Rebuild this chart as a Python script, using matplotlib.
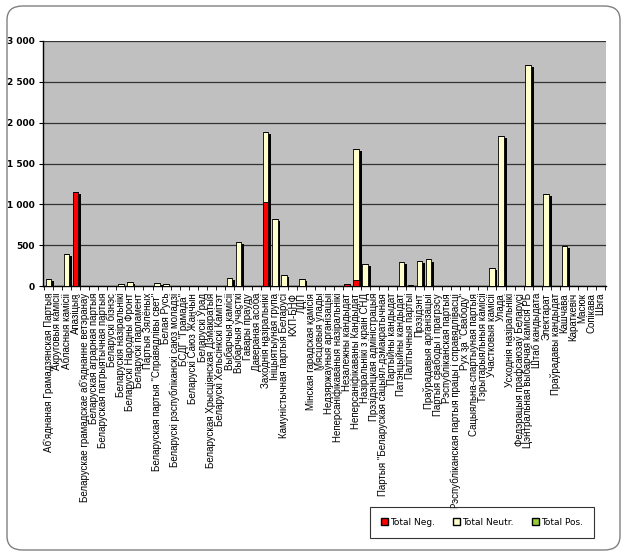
import numpy as np
import matplotlib
matplotlib.use('Agg')
import matplotlib.pyplot as plt
from matplotlib.patches import Patch, FancyBboxPatch
from matplotlib.ticker import FuncFormatter

# categories (Belarusian actor names)
categories = [
    "Аб'яднаная Грамадзянская Партыя", "Акруговыя камісіі", "Абласныя камісіі", "Апазіцыя",
    "Беларускае грамадскае аб'яднанне ветэранаў", "Беларуская аграрная партыя",
    "Беларуская патрыятычная партыя", "Беларускі бізнэс", "Беларускія назіральнікі",
    "Беларускі Народны Фронт", "Беларускі парламент", "Партыя Зялёных",
    'Беларуская партыя "Справядлівы свет"', "Белая Русь",
    "Беларускі рэспубліканскі саюз моладзі", 'БСДГ "Грамада"', "Беларускі Саюз Жанчын",
    "Беларускі Ўрад", "Беларуская Хрысціянская Дэмакратыя", "Беларускі Хельсінкскі Камітэт",
    "Выбарчыя камісіі", "Выбарчыя ўчасткі", "Гавары праўду", "Давераная асоба",
    "Заходнія назіральнікі", "Ініцыятыўная група", "Камуністычная партыя Беларусі",
    "КХП-БНФ", "ЛДП", "Мінская гарадская камісія", "Мясцовыя ўлады",
    "Недзяржаўныя арганізацыі", "Неперсаніфікаваныя назіральнікі", "Незалежны кандыдат",
    "Неперсаніфікаваны Кандыдат", "Назіральнікі з краін СНД", "Прэзідэнцкая адміністрацыя",
    'Партыя "Беларуская сацыял-дэмакратычная', "Партыйны кандыдат", "Патэнцыйны кандыдат",
    "Палітычныя партыі", "Прэзідэнт", "Праўрадавыя арганізацыі", "Партыя свабоды і прагрэсу",
    "Рэспубліканская партыя", "Рэспубліканская партыя працы і справядлівасці",
    'Рух за "Свабоду"', "Сацыяльна-спартыўная партыя", "Тэрытарыяльныя камісіі",
    "Участковыя камісіі", "Улада", "Усходнія назіральнікі", "Федэрацыя прафсаюзаў Беларусі",
    "Цэнтральная выбарчая камісія РБ", "Штаб кандыдата", "Электарат", "Праўрадавы кандыдат",
    "Кашчава", "Караткевіч", "Масюк", "Сопікава", "Шэга",
]

total_neg = [0, 0, 0, 1155, 0, 0, 0, 0, 0, 0,
             0, 0, 0, 0, 0, 0, 0, 0, 0, 0,
             0, 0, 0, 0, 1025, 0, 0, 0, 0, 0,
             0, 0, 0, 30, 77, 0, 0, 0, 0, 0,
             0, 0, 0, 0, 0, 0, 0, 0, 0, 0,
             0, 0, 0, 0, 0, 0, 0, 0, 0, 0,
             0, 0]
total_neutr = [90, 0, 390, 0, 3, 0, 3, 0, 20, 45,
               0, 0, 40, 25, 0, 5, 5, 0, 0, 5,
               100, 540, 0, 0, 860, 815, 140, 0, 85, 0,
               0, 0, 0, 0, 1598, 265, 0, 5, 0, 300,
               15, 310, 325, 0, 0, 5, 0, 3, 0, 220,
               1840, 0, 5, 2710, 0, 1130, 0, 495, 0, 0,
               0, 0]
total_pos = [0] * 62

neg = np.array(total_neg)
neu = np.array(total_neutr)
pos = np.array(total_pos)
tot = neg + neu + pos
x = np.arange(len(categories))

fig = plt.figure(figsize=(6.28, 5.57), dpi=100)
ax = fig.add_axes([43/628, 1-286/557, 563/628, 245/557])
ax.set_facecolor('#C0C0C0')

w = 0.62
# black drop shadow behind each bar
ax.bar(x + 0.3, np.clip(tot - 25, 0, None), width=w, color='black', zorder=2)
ax.bar(x, neg, width=w, color='#FF0000', edgecolor='black', linewidth=0.6, zorder=3)
ax.bar(x, neu, bottom=neg, width=w, color='#FFFFCC', edgecolor='black', linewidth=0.6, zorder=3)
ax.bar(x, pos, bottom=neg + neu, width=w, color='#99CC33', edgecolor='black', linewidth=0.6, zorder=3)

ax.set_ylim(0, 3000)
ax.set_xlim(-0.6, len(categories) - 0.4)
ax.set_yticks(np.arange(0, 3001, 500))
ax.yaxis.set_major_formatter(FuncFormatter(lambda v, p: f'{int(v):,}'.replace(',', ' ')))
for lab in ax.get_yticklabels():
    lab.set_fontweight('bold')
ax.tick_params(axis='y', labelsize=6.5, length=3, width=0.8, pad=3)
ax.yaxis.grid(True, color='#333333', linewidth=0.9, zorder=1)
ax.set_axisbelow(True)

ax.set_xticks(x)
ax.set_xticklabels(categories, rotation=90, fontsize=7, family='Liberation Sans')
ax.tick_params(axis='x', length=0, pad=5)
ax.set_xticks(np.arange(-0.5, len(categories), 1), minor=True)
ax.tick_params(axis='x', which='minor', length=3, width=0.6)

for s in ['top', 'right']:
    ax.spines[s].set_visible(False)
ax.spines['left'].set_linewidth(1.0)
ax.spines['bottom'].set_linewidth(1.0)

handles = [Patch(facecolor='#FF0000', edgecolor='black', label='Total Neg.'),
           Patch(facecolor='#FFFFCC', edgecolor='black', label='Total Neutr.'),
           Patch(facecolor='#99CC33', edgecolor='black', label='Total Pos.')]
leg = fig.legend(handles=handles, loc='center', ncol=3,
                 bbox_to_anchor=(482/628, 1-522.5/557),
                 fontsize=6.5, frameon=True, fancybox=False, edgecolor='black',
                 handlelength=0.8, handleheight=0.8, handletextpad=0.2,
                 columnspacing=2.0, borderpad=1.2)
leg.get_frame().set_linewidth(0.8)

border = FancyBboxPatch((7/628, 7/557), 613/628, 544/557, transform=fig.transFigure,
                        boxstyle='round,pad=0,rounding_size=0.025',
                        facecolor='none', edgecolor='#808080', linewidth=1.0)
fig.patches.append(border)

fig.savefig('out.png', dpi=100)
